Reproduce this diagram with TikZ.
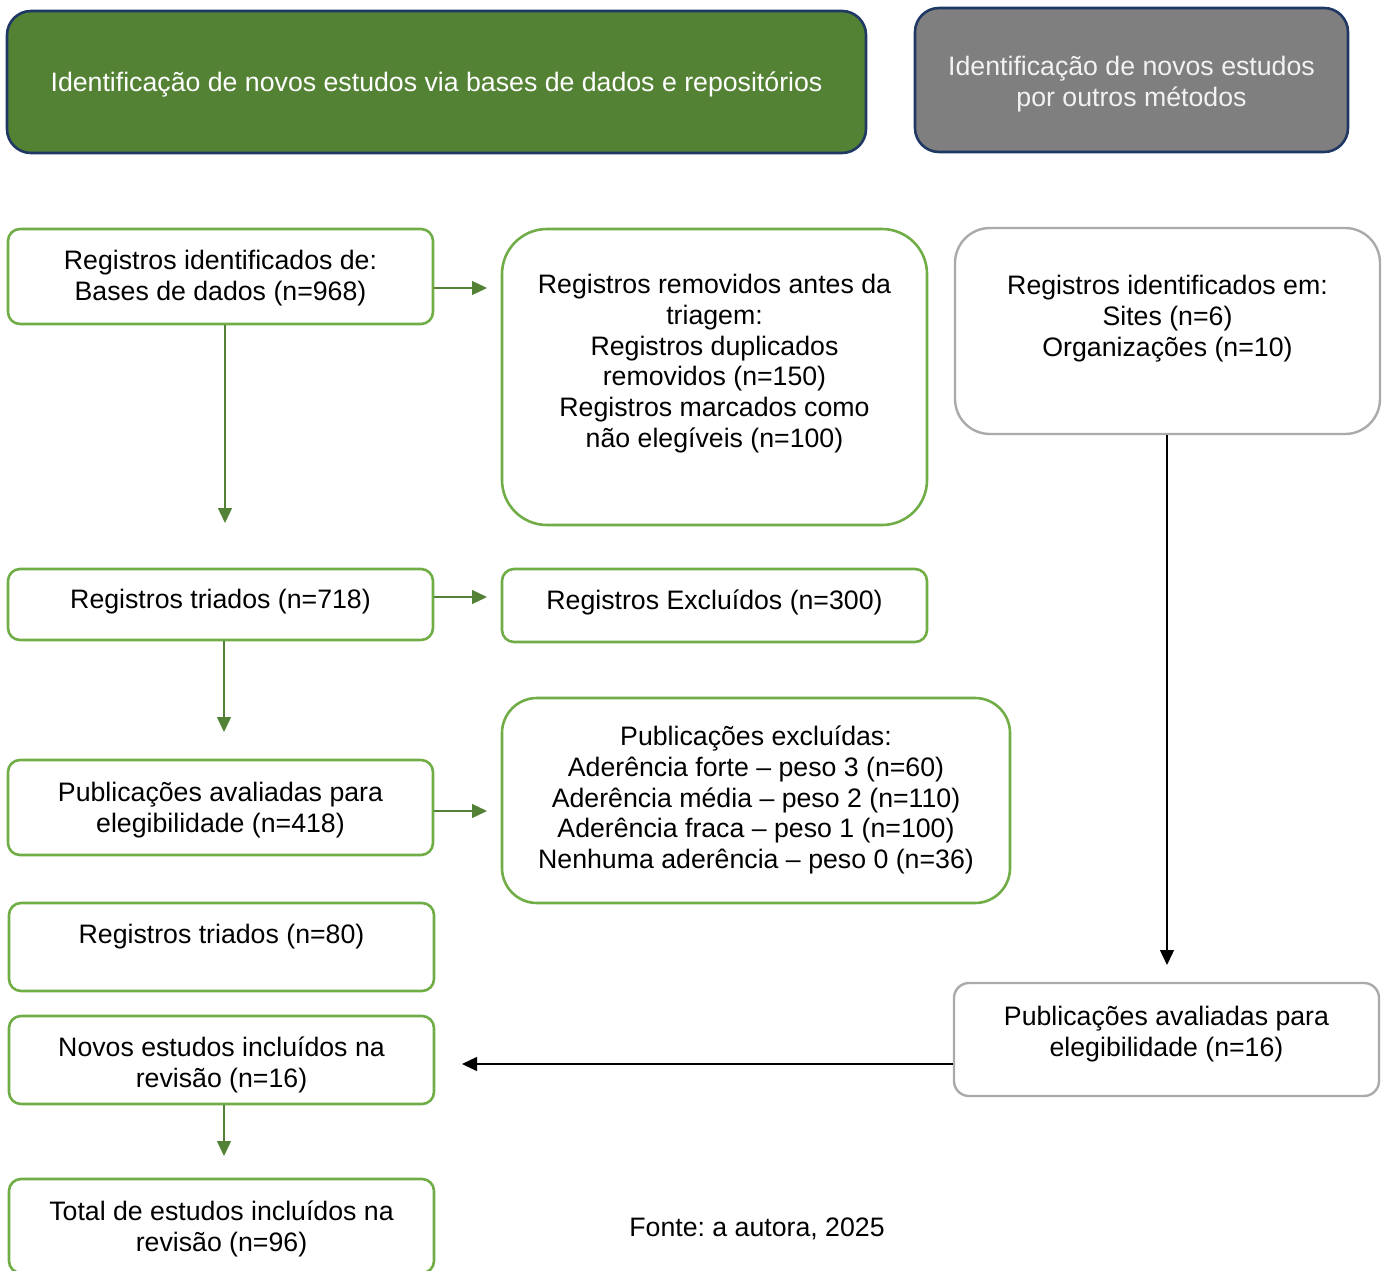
\documentclass[tikz,border=0pt]{standalone}
\usepackage{fontspec}
\setmainfont{Liberation Sans}
\usetikzlibrary{arrows.meta}
\definecolor{hgreen}{HTML}{548235}
\definecolor{gborder}{HTML}{70AD47}
\definecolor{garrow}{HTML}{538135}
\definecolor{navy}{HTML}{203864}
\definecolor{hgray}{HTML}{7F7F7F}
\definecolor{gryborder}{HTML}{AAAAAA}
\definecolor{offwhite}{HTML}{F2F2F2}
\tikzset{
  box/.style={rectangle, draw=gborder, line width=2.6pt, rounded corners=12pt, inner sep=0pt},
  graybox/.style={rectangle, draw=gryborder, line width=2.4pt, rounded corners=15pt, inner sep=0pt},
  header/.style={rectangle, draw=navy, line width=2.6pt, rounded corners=24pt, inner sep=0pt},
  txt/.style={inner sep=0pt, align=center},
  garr/.style={draw=garrow, line width=1.3pt, -{Triangle[length=15pt,width=14pt]}},
  karr/.style={draw=black, line width=1.3pt, -{Triangle[length=15pt,width=14pt]}},
}
\frenchspacing
\begin{document}
\begin{tikzpicture}[x=1pt,y=-1pt,font=\fontsize{26.7}{30.7}\selectfont]
\useasboundingbox (0,0) rectangle (1389,1271);
\clip (0,0) rectangle (1389,1271);
% headers
\node[header, fill=hgreen, minimum width=859pt, minimum height=142pt] (h1) at (436.5,82) {};
\node[txt, text=white] (th1) at (436.5,84)
  {Identificação de novos estudos via bases de dados e repositórios};
\node[header, fill=hgray, minimum width=433pt, minimum height=144pt] (h2) at (1131.5,80) {};
\node[txt, text=offwhite] (th2) at (1131.5,84)
  {Identificação de novos estudos\\por outros métodos};
% left column
\node[box, minimum width=425pt, minimum height=95pt] (bA) at (220.5,276.5) {};
\node[txt] (tA) at (220.5,278) {Registros identificados de:\\Bases de dados (n=968)};
\node[box, minimum width=425pt, minimum height=71pt] (bC) at (220.5,604.5) {};
\node[txt] (tC) at (220.5,601.5) {Registros triados (n=718)};
\node[box, minimum width=425pt, minimum height=95pt] (bE) at (220.5,807.5) {};
\node[txt] (tE) at (220.5,810) {Publicações avaliadas para\\elegibilidade (n=418)};
\node[box, minimum width=425pt, minimum height=88pt] (bG) at (221.5,947) {};
\node[txt] (tG) at (221.5,937) {Registros triados (n=80)};
\node[box, minimum width=425pt, minimum height=88pt] (bH) at (221.5,1060) {};
\node[txt] (tH) at (221.5,1065) {Novos estudos incluídos na\\revisão (n=16)};
\node[box, minimum width=425pt, minimum height=94pt] (bI) at (221.5,1226) {};
\node[txt] (tI) at (221.5,1229) {Total de estudos incluídos na\\revisão (n=96)};
% middle column
\node[box, rounded corners=45pt, minimum width=425pt, minimum height=296pt] (bB) at (714.5,377) {};
\node[txt] (tB) at (714.5,363.5)
  {Registros removidos antes da\\triagem:\\Registros duplicados\\removidos (n=150)\\Registros marcados como\\não elegíveis (n=100)};
\node[box, minimum width=425pt, minimum height=73pt] (bD) at (714.5,605.5) {};
\node[txt] (tD) at (714.5,602.5) {Registros Excluídos (n=300)};
\node[box, rounded corners=35pt, minimum width=508pt, minimum height=205pt] (bF) at (756,800.5) {};
\node[txt] (tF) at (756,800)
  {Publicações excluídas:\\Aderência forte – peso 3 (n=60)\\Aderência média – peso 2 (n=110)\\Aderência fraca – peso 1 (n=100)\\Nenhuma aderência – peso 0 (n=36)};
\node[txt] (fonte) at (757,1229) {Fonte: a autora, 2025};
% right column
\node[graybox, rounded corners=35pt, minimum width=425pt, minimum height=206pt] (bJ) at (1167.5,331) {};
\node[txt] (tJ) at (1167.5,318.5)
  {Registros identificados em:\\Sites (n=6)\\Organizações (n=10)};
\node[graybox, minimum width=425pt, minimum height=113pt] (bK) at (1166.5,1039.5) {};
\node[txt] (tK) at (1166.5,1034)
  {Publicações avaliadas para\\elegibilidade (n=16)};
% arrow end coordinates
\coordinate (eAB) at (487,288);
\coordinate (eCD) at (487,597);
\coordinate (eEF) at (487,811);
\coordinate (eA) at (225,523);
\coordinate (eC) at (224,732);
\coordinate (eH) at (224,1156);
\coordinate (eJ) at (1167,965);
\coordinate (eK) at (462,1064);
% connectors
\draw[garr] (bA.east |- eAB) -- (eAB);
\draw[garr] (bC.east |- eCD) -- (eCD);
\draw[garr] (bE.east |- eEF) -- (eEF);
\draw[garr] (bA.south -| eA) -- (eA);
\draw[garr] (bC.south -| eC) -- (eC);
\draw[garr] (bH.south -| eH) -- (eH);
\draw[karr] (bJ.south -| eJ) -- (eJ);
\draw[karr] (bK.west |- eK) -- (eK);
\end{tikzpicture}
\end{document}
